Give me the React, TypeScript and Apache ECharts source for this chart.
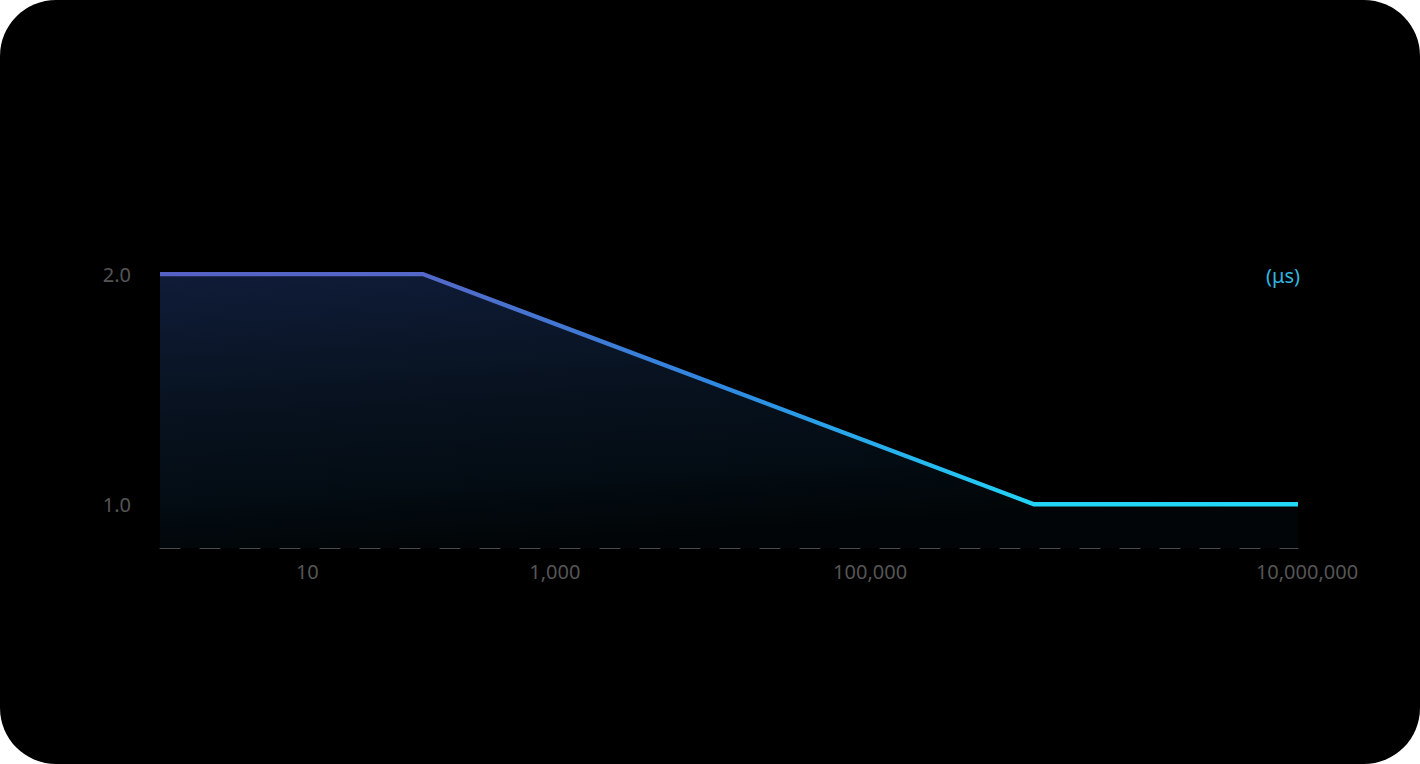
import React, { useEffect, useRef } from "react";
import * as echarts from "echarts";

// Position of each point along the horizontal axis (0 = left end, 100 = right end)
const xPositions = [0, 23.1, 76.8, 100];
// Latency values (μs)
const yValues = [2.0, 2.0, 1.0, 1.0];
// X tick labels and their positions along the axis
const xTickLabels = ["10", "1,000", "100,000", "10,000,000"];
const xTickPositions = [12.95, 34.7, 62.4, 100];
// Y tick values
const yTickValues = [1.0, 2.0];
const unitLabel = "(μs)";

const FONT = "'Noto Sans', sans-serif";

export default function App() {
  const ref = useRef<HTMLDivElement>(null);

  useEffect(() => {
    if (!ref.current) return;
    const chart = echarts.init(ref.current, null, { renderer: "svg" });
    const data = xPositions.map((x, i) => [x, yValues[i]]);
    const labelFor = (v: number) => {
      let best = 0;
      let bd = Infinity;
      xTickPositions.forEach((p, i) => {
        const d = Math.abs(p - v);
        if (d < bd) {
          bd = d;
          best = i;
        }
      });
      return best;
    };
    chart.setOption({
      animation: false,
      backgroundColor: "transparent",
      grid: { left: 160, right: 122, top: 228, bottom: 216, containLabel: false },
      xAxis: {
        type: "value",
        min: 0,
        max: 100,
        axisLine: {
          show: true,
          onZero: false,
          lineStyle: { color: "#4a4a4a", width: 1, type: [20, 20] },
        },
        axisTick: { show: false },
        splitLine: { show: false },
        axisLabel: {
          customValues: xTickPositions,
          margin: 13,
          color: "#555555",
          fontSize: 20,
          fontFamily: FONT,
          formatter: (v: number) => {
            const i = labelFor(v);
            if (i === xTickLabels.length - 1) return `{r|${xTickLabels[i]}}`;
            return xTickLabels[i];
          },
          rich: {
            r: {
              padding: [0, 0, 0, 18],
              color: "#555555",
              fontSize: 20,
              fontFamily: FONT,
            },
          },
        },
      },
      yAxis: {
        type: "value",
        min: 0.81,
        max: 2.2,
        axisLine: { show: false },
        axisTick: { show: false },
        splitLine: { show: false },
        axisLabel: {
          customValues: yTickValues,
          margin: 29,
          color: "#555555",
          fontSize: 20,
          fontFamily: FONT,
          formatter: (v: number) => v.toFixed(1),
        },
      },
      graphic: [
        {
          type: "text",
          x: 1300,
          y: 275,
          style: {
            text: unitLabel,
            fill: "#2fb6e0",
            font: `20px ${FONT}`,
            align: "right",
            verticalAlign: "middle",
          },
        },
      ],
      series: [
        {
          type: "line",
          data,
          showSymbol: false,
          symbol: "none",
          clip: false,
          lineStyle: {
            width: 4.3,
            cap: "butt",
            join: "miter",
            color: new echarts.graphic.LinearGradient(0, 0, 1, 0, [
              { offset: 0, color: "#5661c6" },
              { offset: 0.23, color: "#5468c8" },
              { offset: 0.5, color: "#2e8ae2" },
              { offset: 0.77, color: "#22d4f6" },
              { offset: 1, color: "#22d8f8" },
            ]),
          },
          areaStyle: {
            origin: "start",
            color: new echarts.graphic.LinearGradient(0, 0, 0.25, 1, [
              { offset: 0, color: "#162850" },
              { offset: 0.45, color: "#0b1a2e" },
              { offset: 0.8, color: "#04111a" },
              { offset: 1, color: "#02070a" },
            ]),
          },
        },
      ],
    });
    return () => chart.dispose();
  }, []);

  return (
    <div
      style={{
        position: "absolute",
        left: 0,
        top: 0,
        width: 1420,
        height: 764,
        background: "#000",
        borderRadius: 56,
        overflow: "hidden",
      }}
    >
      <div ref={ref} style={{ width: 1420, height: 764 }} />
    </div>
  );
}
